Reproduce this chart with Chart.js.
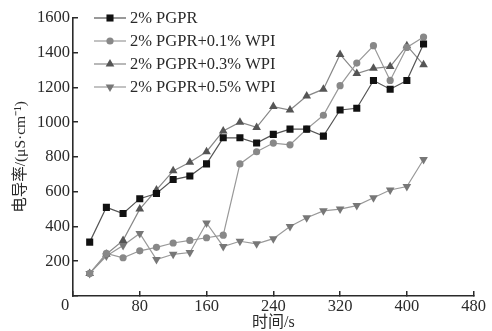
<!DOCTYPE html>
<html>
<head>
<meta charset="utf-8">
<script src="https://cdn.jsdelivr.net/npm/chart.js@4/dist/chart.umd.min.js"></script>
<style>
  html, body { margin: 0; padding: 0; background: #fff; }
  #wrap { width: 492px; height: 331px; }
</style>
</head>
<body>
<div id="wrap"><canvas id="conductChart"></canvas></div>
<script>
// time (s)
const times = [20, 40, 60, 80, 100, 120, 140, 160, 180, 200, 220, 240, 260, 280, 300, 320, 340, 360, 380, 400, 420];
// conductivity, uS/cm
const pgpr  = [310, 510, 475, 560, 590, 670, 690, 760, 910, 910, 880, 930, 960, 960, 920, 1070, 1080, 1240, 1190, 1240, 1450];
const wpi01 = [130, 245, 220, 260, 280, 305, 320, 335, 350, 760, 830, 880, 870, 960, 1040, 1210, 1340, 1440, 1240, 1430, 1490];
const wpi03 = [130, 240, 320, 500, 610, 720, 770, 830, 950, 1000, 970, 1090, 1070, 1150, 1190, 1390, 1280, 1310, 1320, 1440, 1330];
const wpi05 = [130, 230, 290, 360, 210, 240, 250, 420, 285, 315, 300, 330, 400, 450, 490, 500, 520, 565, 610, 630, 785];

const seriesNames = ['2% PGPR', '2% PGPR+0.1% WPI', '2% PGPR+0.3% WPI', '2% PGPR+0.5% WPI'];
const xTicks = [0, 80, 160, 240, 320, 400, 480];
const yTicks = [0, 200, 400, 600, 800, 1000, 1200, 1400, 1600];

const serif = "'Liberation Serif', 'Times New Roman', serif";
const cjk = "'Liberation Serif', 'Noto Sans CJK SC', serif";
const ink = '#2a2a2a';

function toPoints(values) {
    return times.map((t, i) => ({ x: t, y: values[i] }));
}

const styles = [
    { line: '#555', fill: '#111', shape: 'rect', r: 5, rot: 0 },
    { line: '#999', fill: '#888', shape: 'circle', r: 3.6, rot: 0 },
    { line: '#888', fill: '#555', shape: 'triangle', r: 5, rot: 0 },
    { line: '#999', fill: '#777', shape: 'triangle', r: 5, rot: 180 }
];
const allValues = [pgpr, wpi01, wpi03, wpi05];

const datasets = allValues.map((vals, i) => ({
    label: seriesNames[i],
    data: toPoints(vals),
    showLine: true,
    borderColor: styles[i].line,
    borderWidth: 1.2,
    backgroundColor: styles[i].fill,
    pointBackgroundColor: styles[i].fill,
    pointBorderColor: styles[i].fill,
    pointBorderWidth: 0,
    pointStyle: styles[i].shape,
    pointRadius: styles[i].r,
    pointRotation: styles[i].rot,
    tension: 0
}));

const lineLegend = {
    id: 'lineLegend',
    afterDraw: (chart) => {
        const ctx = chart.ctx;
        ctx.save();
        ctx.font = '16.5px ' + serif;
        ctx.textBaseline = 'middle';
        ctx.textAlign = 'left';
        datasets.forEach((ds, i) => {
            const y = 18 + i * 23;
            ctx.strokeStyle = ds.borderColor;
            ctx.lineWidth = 1.2;
            ctx.beginPath();
            ctx.moveTo(94, y);
            ctx.lineTo(126, y);
            ctx.stroke();
            ctx.fillStyle = ds.pointBackgroundColor;
            ctx.strokeStyle = ds.pointBackgroundColor;
            Chart.helpers.drawPoint(ctx, {
                pointStyle: ds.pointStyle,
                radius: ds.pointRadius,
                rotation: ds.pointRotation,
                borderWidth: 0
            }, 110, y);
            ctx.fillStyle = ink;
            ctx.fillText(ds.label, 130, y + 1);
        });
        // shared origin label
        ctx.font = '16.5px ' + serif;
        ctx.textAlign = 'center';
        ctx.fillText('0', 65, 306);
        ctx.restore();
    }
};

new Chart(document.getElementById('conductChart'), {
    type: 'scatter',
    data: { datasets: datasets },
    options: {
        responsive: true,
        maintainAspectRatio: false,
        animation: false,
        layout: { padding: { top: 16, right: 18, bottom: 0, left: 0 } },
        plugins: {
            legend: { display: false },
            tooltip: { enabled: false }
        },
        scales: {
            x: {
                type: 'linear',
                min: 0,
                max: 480,
                afterBuildTicks: (scale) => { scale.ticks = xTicks.map(v => ({ value: v })); },
                afterFit: (scale) => { scale.height = 35; },
                ticks: {
                    color: ink,
                    font: { family: serif, size: 16.5 },
                    padding: 6,
                    maxRotation: 0,
                    callback: (v) => v === 0 ? '' : v
                },
                grid: { drawOnChartArea: false, drawTicks: true, tickLength: -5, color: ink, lineWidth: 1.5 },
                border: { color: ink, width: 1.6 },
                title: {
                    display: true,
                    text: '时间/s',
                    color: ink,
                    font: { family: cjk, size: 16, lineHeight: 1 },
                    padding: { top: 0, bottom: 0 }
                }
            },
            y: {
                min: 0,
                max: 1600,
                afterBuildTicks: (scale) => { scale.ticks = yTicks.map(v => ({ value: v })); },
                afterFit: (scale) => { scale.width = 73; },
                ticks: {
                    color: ink,
                    font: { family: serif, size: 16.5 },
                    padding: 8,
                    callback: (v) => v === 0 ? '' : v
                },
                grid: { drawOnChartArea: false, drawTicks: true, tickLength: -5, color: ink, lineWidth: 1.5 },
                border: { color: ink, width: 1.6 },
                title: {
                    display: true,
                    text: '电导率/(μS·cm⁻¹)',
                    color: ink,
                    font: { family: cjk, size: 15.5, lineHeight: 1 },
                    padding: { top: 13, bottom: 0 }
                }
            }
        }
    },
    plugins: [lineLegend]
});
</script>
</body>
</html>
